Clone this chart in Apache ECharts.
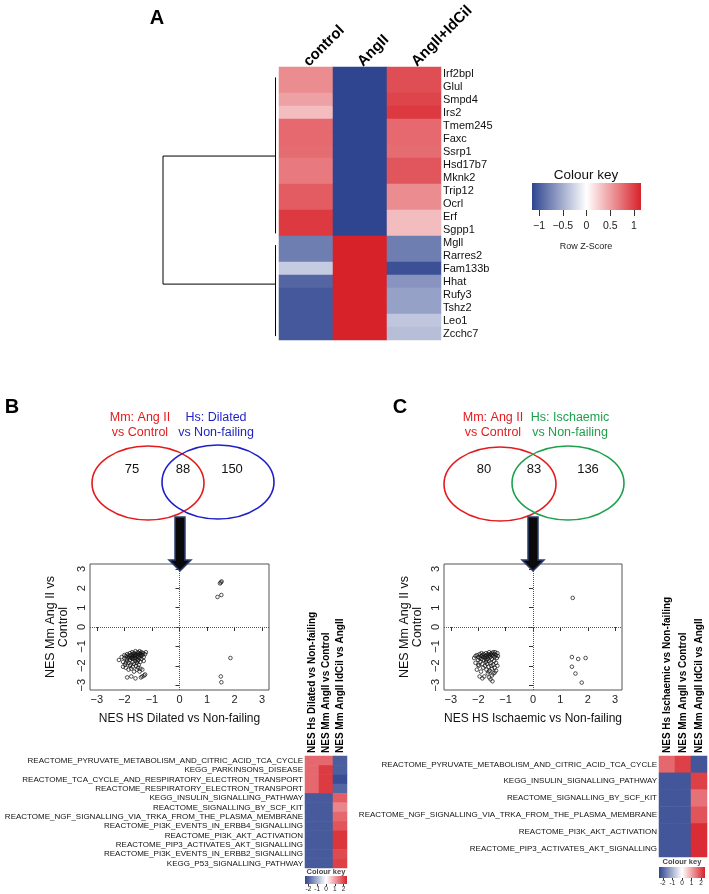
<!DOCTYPE html>
<html><head><meta charset="utf-8">
<script src="https://cdn.jsdelivr.net/npm/echarts@6/dist/echarts.min.js"></script>
<style>html,body{margin:0;padding:0;background:#fff}#c{width:709px;height:894px}</style>
</head><body><div id="c"></div>
<script>
// ---------- DATA ----------
const genes = ['Irf2bpl','Glul','Smpd4','Irs2','Tmem245','Faxc','Ssrp1','Hsd17b7','Mknk2','Trip12','Ocrl','Erf','Sgpp1','Mgll','Rarres2','Fam133b','Hhat','Rufy3','Tshz2','Leo1','Zcchc7'];
const conditionsA = ['control','AngII','AngII+IdCil'];
const zControl    = [0.6,0.6,0.49,0.35,0.78,0.78,0.76,0.69,0.69,0.85,0.85,1.03,1.03,-0.8,-0.8,-0.32,-0.95,-1.03,-1.03,-1.03,-1.03];
const zAngII      = [-1.15,-1.15,-1.15,-1.15,-1.15,-1.15,-1.15,-1.15,-1.15,-1.15,-1.15,-1.15,-1.15,1.15,1.15,1.15,1.15,1.15,1.15,1.15,1.15];
const zAngIIIdCil = [0.92,0.92,0.97,1.03,0.78,0.78,0.76,0.88,0.88,0.6,0.6,0.35,0.35,-0.8,-0.8,-1.08,-0.66,-0.58,-0.58,-0.35,-0.4];
const zKeyTicks = [-1,-0.5,0,0.5,1];
// dendrogram: [height, row position] polylines
const dendroLinks = [
  [[0.03,6.35],[1,6.35],[1,16.2],[0.03,16.2]],
  [[0.03,0.3],[0.03,12.3]],
  [[0.03,13.2],[0.03,20.2]]
];

const vennB = {leftLabel:['Mm: Ang II','vs Control'], rightLabel:['Hs: Dilated','vs Non-failing'], onlyLeft:75, both:88, onlyRight:150};
const vennC = {leftLabel:['Mm: Ang II','vs Control'], rightLabel:['Hs: Ischaemic','vs Non-failing'], onlyLeft:80, both:83, onlyRight:136};

const nesTicks = [-3,-2,-1,0,1,2,3];
const scatterB = [[-2.2,-1.7],[-2.1,-1.55],[-2.05,-1.8],[-2.0,-1.45],[-2.0,-1.6],[-1.98,-1.95],[-1.95,-1.5],[-1.95,-2.1],[-1.92,-1.65],[-1.9,-1.4],[-1.9,-1.75],[-1.9,-2.6],[-1.88,-1.55],[-1.85,-1.45],[-1.85,-1.85],[-1.85,-2.2],[-1.82,-1.6],[-1.8,-1.35],[-1.8,-1.5],[-1.8,-1.7],[-1.8,-2.0],[-1.78,-1.95],[-1.75,-1.45],[-1.75,-1.6],[-1.75,-2.15],[-1.72,-1.3],[-1.72,-1.55],[-1.7,-1.4],[-1.7,-1.8],[-1.7,-2.05],[-1.68,-1.5],[-1.68,-1.65],[-1.65,-1.35],[-1.65,-1.9],[-1.65,-2.3],[-1.62,-1.45],[-1.62,-1.6],[-1.6,-1.25],[-1.6,-1.75],[-1.6,-2.65],[-1.58,-1.4],[-1.58,-2.0],[-1.55,-1.5],[-1.55,-1.65],[-1.55,-1.85],[-1.55,-2.2],[-1.52,-1.3],[-1.52,-1.45],[-1.5,-1.55],[-1.5,-1.7],[-1.5,-2.1],[-1.48,-1.35],[-1.48,-1.95],[-1.45,-1.25],[-1.45,-1.45],[-1.45,-1.6],[-1.45,-2.3],[-1.42,-1.8],[-1.42,-2.15],[-1.4,-1.4],[-1.4,-1.5],[-1.4,-2.6],[-1.38,-1.3],[-1.38,-1.65],[-1.35,-1.45],[-1.35,-2.2],[-1.35,-2.55],[-1.32,-1.35],[-1.3,-1.55],[-1.3,-1.75],[-1.28,-2.5],[-1.25,-1.4],[-1.25,-2.45],[-1.22,-1.3],[-1.75,-2.55],[-2.05,-2.05],[-1.95,-1.85],[-1.6,-1.5],[-1.7,-1.6],[-1.52,-1.75],[-1.42,-1.35],
  [1.5,2.3],[1.53,2.35],[1.47,2.25],[1.38,1.55],[1.52,1.65],[1.85,-1.6],[1.5,-2.55],[1.52,-2.85]];
const scatterC = [[-2.15,-1.6],[-2.1,-1.5],[-2.1,-1.85],[-2.05,-1.45],[-2.05,-2.2],[-2.0,-1.55],[-2.0,-1.7],[-1.98,-2.0],[-1.95,-1.4],[-1.95,-1.6],[-1.95,-2.55],[-1.92,-1.8],[-1.9,-1.5],[-1.9,-2.3],[-1.88,-1.35],[-1.88,-1.65],[-1.85,-1.45],[-1.85,-1.9],[-1.82,-1.55],[-1.82,-2.1],[-1.8,-1.4],[-1.8,-1.7],[-1.78,-2.55],[-1.75,-1.5],[-1.75,-1.6],[-1.75,-2.0],[-1.72,-1.35],[-1.72,-1.8],[-1.7,-1.45],[-1.7,-2.2],[-1.68,-1.55],[-1.68,-1.9],[-1.65,-1.4],[-1.65,-1.65],[-1.65,-2.4],[-1.62,-1.5],[-1.62,-2.05],[-1.6,-1.3],[-1.6,-1.75],[-1.6,-2.6],[-1.58,-1.45],[-1.58,-2.25],[-1.55,-1.55],[-1.55,-1.85],[-1.55,-2.7],[-1.52,-1.35],[-1.52,-2.0],[-1.5,-1.45],[-1.5,-1.65],[-1.5,-2.15],[-1.48,-2.8],[-1.45,-1.3],[-1.45,-1.5],[-1.45,-1.95],[-1.45,-2.4],[-1.42,-1.4],[-1.42,-1.75],[-1.4,-1.55],[-1.4,-2.1],[-1.38,-1.3],[-1.35,-1.45],[-1.35,-1.85],[-1.35,-2.25],[-1.32,-1.6],[-1.3,-1.35],[-1.3,-2.0],[-1.28,-1.5],[-1.85,-2.65],[-2.0,-1.95],[-1.7,-1.7],[-1.5,-2.5],[-1.62,-2.3],[-1.4,-2.35],[-1.55,-1.4],
  [1.45,1.5],[1.42,-1.55],[1.65,-1.65],[1.92,-1.6],[1.42,-2.05],[1.55,-2.4],[1.78,-2.87]];

const pathwaysB = ['REACTOME_PYRUVATE_METABOLISM_AND_CITRIC_ACID_TCA_CYCLE','KEGG_PARKINSONS_DISEASE','REACTOME_TCA_CYCLE_AND_RESPIRATORY_ELECTRON_TRANSPORT','REACTOME_RESPIRATORY_ELECTRON_TRANSPORT','KEGG_INSULIN_SIGNALLING_PATHWAY','REACTOME_SIGNALLING_BY_SCF_KIT','REACTOME_NGF_SIGNALLING_VIA_TRKA_FROM_THE_PLASMA_MEMBRANE','REACTOME_PI3K_EVENTS_IN_ERBB4_SIGNALLING','REACTOME_PI3K_AKT_ACTIVATION','REACTOME_PIP3_ACTIVATES_AKT_SIGNALLING','REACTOME_PI3K_EVENTS_IN_ERBB2_SIGNALLING','KEGG_P53_SIGNALLING_PATHWAY'];
const columnsB = ['NES Hs Dilated vs Non-failing','NES Mm AngII vs Control','NES Mm AngII IdCil vs AngII'];
const nesB_HsDilated = [1.5,1.5,1.5,1.5,-1.95,-1.95,-1.95,-1.95,-1.95,-1.95,-1.95,-1.95];
const nesB_MmAngII   = [1.5,1.95,1.95,1.95,-1.95,-1.95,-1.95,-1.95,-1.95,-1.95,-1.95,-1.95];
const nesB_MmIdCil   = [-1.9,-1.9,-2.1,-1.8,1.6,1.2,1.5,1.7,2.0,2.0,1.8,1.9];

const pathwaysC = ['REACTOME_PYRUVATE_METABOLISM_AND_CITRIC_ACID_TCA_CYCLE','KEGG_INSULIN_SIGNALLING_PATHWAY','REACTOME_SIGNALLING_BY_SCF_KIT','REACTOME_NGF_SIGNALLING_VIA_TRKA_FROM_THE_PLASMA_MEMBRANE','REACTOME_PI3K_AKT_ACTIVATION','REACTOME_PIP3_ACTIVATES_AKT_SIGNALLING'];
const columnsC = ['NES Hs Ischaemic vs Non-failing','NES Mm AngII vs Control','NES Mm AngII IdCil vs AngII'];
const nesC_HsIsch  = [1.5,-2.0,-2.0,-2.0,-2.0,-2.0];
const nesC_MmAngII = [1.9,-2.0,-2.0,-2.0,-2.0,-2.0];
const nesC_MmIdCil = [-2.0,1.9,1.4,1.7,2.1,2.1];
const nesKeyTicks = [-2,-1,0,1,2];

// ---------- STYLE ----------
const FR = "'Liberation Sans',Arial,sans-serif";
const BLUE = '#2f458f', WHITE = '#ffffff', RED = '#d8222a';
const fmt = v => (v < 0 ? '\u2212' + Math.abs(v) : String(v));
const fmtHy = v => String(v);

function matrix(cols){ const out=[]; cols.forEach((col,j)=>col.forEach((v,i)=>out.push([j,i,v]))); return out; }

const chart = echarts.init(document.getElementById('c'), null, {renderer:'canvas'});

function scatterX(g, name){
  return {type:'value', gridIndex:g, min:-3.25, max:3.25, position:'bottom',
    axisLine:{show:false}, splitLine:{show:false},
    axisTick:{show:true, customValues:nesTicks, length:4, lineStyle:{color:'#333'}},
    axisLabel:{customValues:nesTicks, formatter:fmt, fontFamily:FR, fontSize:11, color:'#222', margin:4},
    name, nameLocation:'middle', nameGap:23, nameTextStyle:{fontFamily:FR, fontSize:12, color:'#111'}};
}
function scatterY(g){
  return {type:'value', gridIndex:g, min:-3.25, max:3.25,
    axisLine:{show:false}, splitLine:{show:false},
    axisTick:{show:true, customValues:nesTicks, length:4, lineStyle:{color:'#333'}},
    axisLabel:{customValues:nesTicks, formatter:fmt, rotate:90, fontFamily:FR, fontSize:11, color:'#222', margin:3},
    name:'NES Mm Ang II vs\nControl', nameLocation:'middle', nameGap:20,
    nameTextStyle:{fontFamily:FR, fontSize:12.5, color:'#111', lineHeight:13}};
}
function keyX(g, min, max, ticks, fs, tl, off, mg, f){
  return {type:'value', gridIndex:g, min, max, position:'bottom', offset:off,
    axisLine:{show:false}, splitLine:{show:false},
    axisTick:{show:true, customValues:ticks, length:tl, lineStyle:{color:'#333'}},
    axisLabel:{customValues:ticks, formatter:f, fontFamily:FR, fontSize:fs, color:'#222', margin:mg}};
}
const hide = {show:false};
function catTop(g, data, rot, fs){
  return {type:'category', gridIndex:g, data, position:'top', axisLine:hide, axisTick:hide, splitLine:hide,
    axisLabel:{interval:0, rotate:rot, fontFamily:FR, fontWeight:'bold', fontSize:fs, color:'#000', margin:3}};
}
function catY(g, data, pos, fs){
  return {type:'category', gridIndex:g, data, inverse:true, position:pos, axisLine:hide, axisTick:hide, splitLine:hide,
    axisLabel:{interval:0, fontFamily:FR, fontSize:fs, color:'#111', margin:2}};
}
const grad = (stops) => new echarts.graphic.LinearGradient(0,0,1,0, stops);
const keyStops = [{offset:0,color:BLUE},{offset:0.5,color:WHITE},{offset:1,color:RED}];

const scatterStyle = {symbol:'circle', symbolSize:3.6, itemStyle:{color:'rgba(255,255,255,0)', borderColor:'#111', borderWidth:0.9}};
const zeroLines = {silent:true, symbol:'none', label:{show:false}, lineStyle:{type:'dotted', color:'#555', width:1}, data:[{xAxis:0},{yAxis:0}]};

function vennGraphics(v, cxL, cxR, cy, rx, ry, colL, colR, labXL, labXR, numX){
  const g = [];
  g.push({type:'ellipse', shape:{cx:cxL, cy:cy, rx, ry}, style:{fill:'none', stroke:colL, lineWidth:1.6}});
  g.push({type:'ellipse', shape:{cx:cxR, cy:cy-1, rx, ry}, style:{fill:'none', stroke:colR, lineWidth:1.6}});
  v.leftLabel.forEach((t,i)=>g.push({type:'text', x:labXL, y:418+i*15, style:{text:t, fill:colL, font:'12.5px '+FR, align:'center', verticalAlign:'middle'}}));
  v.rightLabel.forEach((t,i)=>g.push({type:'text', x:labXR, y:418+i*15, style:{text:t, fill:colR, font:'12.5px '+FR, align:'center', verticalAlign:'middle'}}));
  [v.onlyLeft, v.both, v.onlyRight].forEach((n,i)=>g.push({type:'text', x:numX[i], y:469, style:{text:String(n), fill:'#111', font:'13px '+FR, align:'center', verticalAlign:'middle'}}));
  return g;
}
function arrow(x){
  return {type:'polygon', z:100, shape:{points:[[x-5,517],[x+5,517],[x+5,560],[x+11,560],[x,571],[x-11,560],[x-5,560]]},
    style:{fill:'#0a0a0a', stroke:'#2c3f6e', lineWidth:1.5}};
}
function label(t,x,y){ return {type:'text', x, y, style:{text:t, font:'bold 20px '+FR, fill:'#000', align:'center', verticalAlign:'middle'}}; }

const option = {
  animation:false,
  backgroundColor:'#fff',
  grid:[
    {left:163, top:67, width:116, height:273},
    {left:279, top:67, width:162, height:273},
    {left:532, top:183, width:109, height:27},
    {left:90, top:564, width:179, height:126, show:true, borderColor:'#555', borderWidth:1, backgroundColor:'transparent'},
    {left:444, top:564, width:178, height:126, show:true, borderColor:'#555', borderWidth:1, backgroundColor:'transparent'},
    {left:305, top:756, width:42, height:112},
    {left:659, top:756, width:48, height:101},
    {left:305, top:876, width:42, height:8},
    {left:659, top:867, width:46, height:11}
  ],
  xAxis:[
    {type:'value', gridIndex:0, min:0, max:1, inverse:true, show:false},
    catTop(1, conditionsA, -45, 15),
    keyX(2, -1.15, 1.15, zKeyTicks, 10.5, 6, 8, 3, fmt),
    scatterX(3, 'NES HS Dilated vs Non-failing'),
    scatterX(4, 'NES HS Ischaemic vs Non-failing'),
    catTop(5, columnsB, -90, 10),
    catTop(6, columnsC, -90, 10),
    keyX(7, -2.4, 2.4, nesKeyTicks, 6.5, 2, 0, 1.5, fmtHy),
    keyX(8, -2.4, 2.4, nesKeyTicks, 6.5, 2, 0, 1.5, fmtHy)
  ],
  yAxis:[
    {type:'value', gridIndex:0, min:-0.5, max:20.5, inverse:true, show:false},
    catY(1, genes, 'right', 11),
    {type:'value', gridIndex:2, show:false},
    scatterY(3),
    scatterY(4),
    catY(5, pathwaysB, 'left', 8),
    catY(6, pathwaysC, 'left', 8),
    {type:'value', gridIndex:7, show:false},
    {type:'value', gridIndex:8, show:false}
  ],
  visualMap:[
    {show:false, type:'continuous', seriesIndex:1, dimension:2, min:-1.15, max:1.15, inRange:{color:[BLUE,WHITE,RED]}},
    {show:false, type:'continuous', seriesIndex:4, dimension:2, min:-2.2, max:2.2, inRange:{color:[BLUE,WHITE,RED]}},
    {show:false, type:'continuous', seriesIndex:5, dimension:2, min:-2.2, max:2.2, inRange:{color:[BLUE,WHITE,RED]}}
  ],
  series:[
    {type:'lines', coordinateSystem:'cartesian2d', xAxisIndex:0, yAxisIndex:0, polyline:true, silent:true,
      lineStyle:{color:'#000', width:1, opacity:1}, data:dendroLinks.map(c=>({coords:c}))},
    {type:'heatmap', xAxisIndex:1, yAxisIndex:1, data:matrix([zControl,zAngII,zAngIIIdCil])},
    Object.assign({type:'scatter', xAxisIndex:3, yAxisIndex:3, data:scatterB, markLine:zeroLines}, scatterStyle),
    Object.assign({type:'scatter', xAxisIndex:4, yAxisIndex:4, data:scatterC, markLine:zeroLines}, scatterStyle),
    {type:'heatmap', xAxisIndex:5, yAxisIndex:5, data:matrix([nesB_HsDilated,nesB_MmAngII,nesB_MmIdCil])},
    {type:'heatmap', xAxisIndex:6, yAxisIndex:6, data:matrix([nesC_HsIsch,nesC_MmAngII,nesC_MmIdCil])}
  ],
  graphic:[
    label('A',157,18), label('B',12,407), label('C',400,407),
    {type:'rect', shape:{x:532,y:183,width:109,height:27}, style:{fill:grad(keyStops)}},
    {type:'text', x:586, y:175, style:{text:'Colour key', font:'13.5px '+FR, fill:'#111', align:'center', verticalAlign:'middle'}},
    {type:'text', x:586, y:247, style:{text:'Row Z-Score', font:'9px '+FR, fill:'#222', align:'center', verticalAlign:'middle'}},
    ...vennGraphics(vennB, 148, 218, 483, 56, 37, '#e41a1c', '#1f1fc8', 140, 216, [132,183,232]),
    ...vennGraphics(vennC, 500, 568, 484, 56, 37, '#e41a1c', '#1ea04c', 493, 570, [484,534,588]),
    arrow(180), arrow(533),
    {type:'rect', shape:{x:305,y:876,width:42,height:8}, style:{fill:grad(keyStops)}},
    {type:'text', x:326, y:871.5, style:{text:'Colour key', font:'bold 7.5px '+FR, fill:'#444', align:'center', verticalAlign:'middle'}},
    {type:'rect', shape:{x:659,y:867,width:46,height:11}, style:{fill:grad(keyStops)}},
    {type:'text', x:682, y:862, style:{text:'Colour key', font:'bold 7.5px '+FR, fill:'#444', align:'center', verticalAlign:'middle'}}
  ]
};
chart.setOption(option);
</script></body></html>
